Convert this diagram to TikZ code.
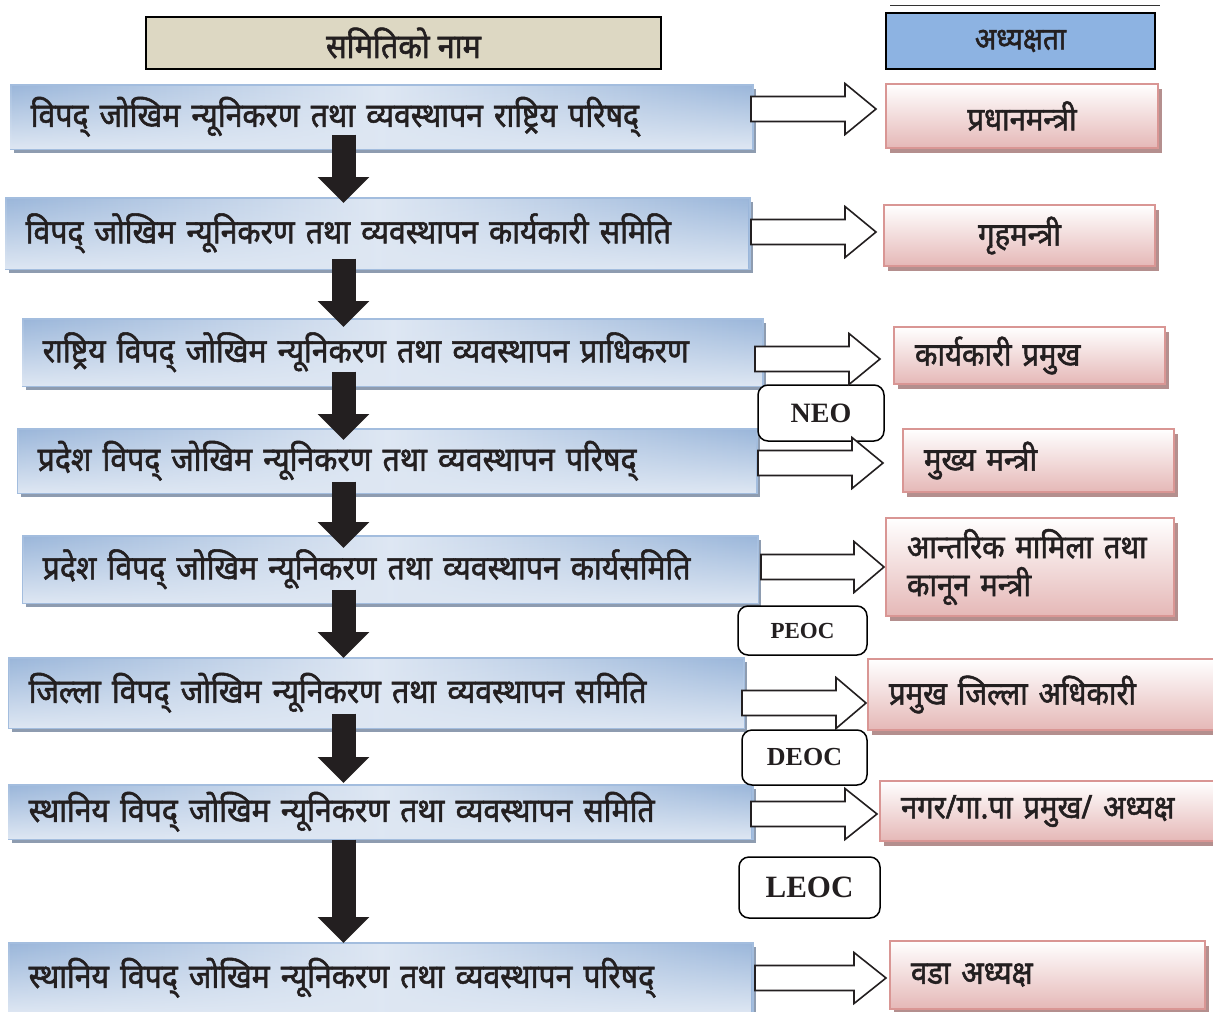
\documentclass[tikz,border=0pt]{standalone}
\usepackage{fontspec}
\setmainfont{Liberation Serif}
\newfontfamily\dev[Script=Devanagari,FakeStretch=0.9,FakeBold=1.6]{Noto Sans}
\usetikzlibrary{shadows,fadings,arrows.meta,calc}
\definecolor{blueA}{HTML}{9AB6DA}
\definecolor{blueL}{HTML}{DEE7F3}
\definecolor{blueE}{HTML}{A3BDDE}
\definecolor{blueSh}{HTML}{8E9CB0}
\definecolor{pinkB}{HTML}{E5B8B7}
\definecolor{pinkE}{HTML}{D99694}
\definecolor{pinkSh}{HTML}{B48F8E}
\definecolor{tanF}{HTML}{DDD8C3}
\definecolor{hdrB}{HTML}{8DB3E2}
\definecolor{ink}{HTML}{231F20}
\newcommand\wharrow[5]{% x0, ymid, headstart, tip, name
  \coordinate (#5) at (#1,#2);
  \draw[wharr] (#1,#2-12.5) -- (#3,#2-12.5) -- (#3,#2-25.5) -- (#4,#2)
    -- (#3,#2+25.5) -- (#3,#2+12.5) -- (#1,#2+12.5) -- cycle;}
\begin{document}
\begin{tikzpicture}[x=1pt,y=-1pt,
  bluebox/.style={draw=blueE, line width=1.5pt,
    left color=blueA, right color=blueA, middle color=blueL,
    postaction={fill=blueL, path fading=north},
    drop shadow={shadow xshift=3pt, shadow yshift=-4pt, fill=blueSh, opacity=1},
    anchor=north west, inner xsep=20pt, inner ysep=0pt, align=left,
    font=\dev\fontsize{33.5}{38}\selectfont, text=ink},
  pinkbox/.style={draw=pinkE, line width=2pt, top color=white, bottom color=pinkB,
    drop shadow={shadow xshift=4pt, shadow yshift=-5pt, fill=pinkSh, opacity=1},
    anchor=north west, inner xsep=21pt, inner ysep=0pt, align=left,
    font=\dev\fontsize{32.5}{38}\selectfont, text=ink},
  hdr/.style={draw=black, line width=2pt, anchor=north west, inner sep=0pt,
    font=\dev\fontsize{31}{34}\selectfont, text=ink},
  lbl/.style={draw=black, line width=1.5pt, fill=white, rounded corners=10pt,
    inner sep=0pt, font=\bfseries, text=ink},
  blk/.style={draw=ink, line width=24pt, -{Triangle[width=50pt,length=26pt]}},
  wharr/.style={draw=ink, line width=1.6pt, fill=white, line join=miter}
]
\clip (0,0) rectangle (1213,1012);
\fill[white] (0,0) rectangle (1213,1012);

% headers
\draw[black!80, line width=1pt] (890,5) -- (1160,5);
\node[hdr, fill=tanF, minimum width=515pt, minimum height=52pt] (h1) at (145,16) {\fontsize{34}{36}\selectfont समितिको नाम};
\node[hdr, fill=hdrB, minimum width=269pt, minimum height=56pt] (h2) at (885,12) {अध्यक्षता};

% committee boxes
\node[bluebox, text width=702pt, minimum height=64pt] (r1) at (10,84) {विपद् जोखिम न्यूनिकरण तथा व्यवस्थापन राष्ट्रिय परिषद्};
\node[bluebox, text width=704pt, minimum height=71pt] (r2) at (5,197) {विपद् जोखिम न्यूनिकरण तथा व्यवस्थापन कार्यकारी समिति};
\node[bluebox, text width=700pt, minimum height=67pt] (r3) at (22,318) {राष्ट्रिय विपद् जोखिम न्यूनिकरण तथा व्यवस्थापन प्राधिकरण};
\node[bluebox, text width=699pt, minimum height=64pt] (r4) at (17,428) {प्रदेश विपद् जोखिम न्यूनिकरण तथा व्यवस्थापन परिषद्};
\node[bluebox, text width=695pt, minimum height=67pt] (r5) at (22,535) {प्रदेश विपद् जोखिम न्यूनिकरण तथा व्यवस्थापन कार्यसमिति};
\node[bluebox, text width=695pt, minimum height=70pt] (r6) at (8,657) {जिल्ला विपद् जोखिम न्यूनिकरण तथा व्यवस्थापन समिति};
\node[bluebox, text width=704pt, minimum height=54pt] (r7) at (8,784) {स्थानिय विपद् जोखिम न्यूनिकरण तथा व्यवस्थापन समिति};
\node[bluebox, text width=704pt, minimum height=70pt] (r8) at (8,942) {स्थानिय विपद् जोखिम न्यूनिकरण तथा व्यवस्थापन परिषद्};

% chair boxes
\node[pinkbox, text width=230pt, align=center, minimum height=64pt] (p1) at (885,83) {प्रधानमन्त्री};
\node[pinkbox, text width=229pt, align=center, minimum height=61pt] (p2) at (883,204) {गृहमन्त्री};
\node[pinkbox, text width=229pt, minimum height=57pt] (p3) at (893,326) {कार्यकारी प्रमुख};
\node[pinkbox, text width=229pt, minimum height=63pt] (p4) at (902,428) {मुख्य मन्त्री};
\node[pinkbox, text width=246pt, minimum height=98pt] (p5) at (885,517) {आन्तरिक मामिला तथा\\कानून मन्त्री};
\node[pinkbox, text width=318pt, minimum height=71pt] (p6) at (867,658) {प्रमुख जिल्ला अधिकारी};
\node[pinkbox, text width=308pt, minimum height=60pt] (p7) at (879,780) {नगर/गा.पा प्रमुख/ अध्यक्ष};
\node[pinkbox, text width=273pt, minimum height=68pt] (p8) at (889,940) {वडा अध्यक्ष};

% black downward arrows
\coordinate (ax) at (343.5,0);
\draw[blk] ($(ax |- r1.south)+(0,-15)$) -- ($(ax |- r2.north)+(0,6)$);
\draw[blk] ($(ax |- r2.south)+(0,-11)$) -- ($(ax |- r3.north)+(0,9)$);
\draw[blk] ($(ax |- r3.south)+(0,-15)$) -- ($(ax |- r4.north)+(0,12)$);
\draw[blk] ($(ax |- r4.south)+(0,-12)$) -- ($(ax |- r5.north)+(0,13)$);
\draw[blk] ($(ax |- r5.south)+(0,-14)$) -- ($(ax |- r6.north)+(0,1)$);
\draw[blk] ($(ax |- r6.south)+(0,-15)$) -- ($(ax |- r7.north)+(0,-1)$);
\draw[blk] ($(ax |- r7.south)+(0,0)$) -- ($(ax |- r8.north)+(0,1)$);

% EOC labels
\node[lbl, minimum width=126pt, minimum height=56pt, font=\bfseries\fontsize{28}{30}\selectfont] (neo) at (821,413) {NEO};
\node[lbl, minimum width=129pt, minimum height=49pt, font=\bfseries\fontsize{23}{26}\selectfont] (peoc) at (802.5,630.5) {PEOC};
\node[lbl, minimum width=125pt, minimum height=55pt, font=\bfseries\fontsize{26}{28}\selectfont] (deoc) at (804.5,757.5) {DEOC};
\node[lbl, minimum width=141pt, minimum height=61pt, font=\bfseries\fontsize{31}{33}\selectfont] (leoc) at (809.5,887.5) {LEOC};

% white block arrows
\wharrow{751}{109}{845}{876}{w1}
\wharrow{751}{232}{845}{876}{w2}
\wharrow{755}{359}{849}{880}{w3}
\wharrow{758}{463}{852}{883}{w4}
\wharrow{761}{567}{854}{884}{w5}
\wharrow{742}{703}{836}{866}{w6}
\wharrow{751}{814}{845}{877}{w7}
\wharrow{755}{978}{854}{886}{w8}
\end{tikzpicture}
\end{document}
